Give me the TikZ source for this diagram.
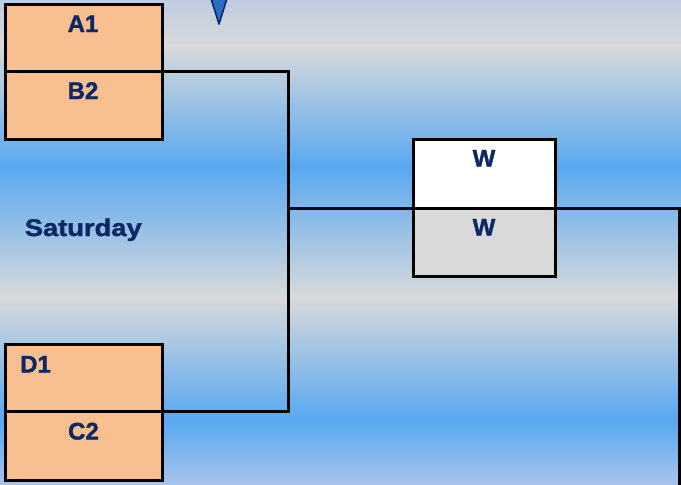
\documentclass[tikz,border=0pt]{standalone}
\usepackage{fontspec}
\setmainfont{Liberation Sans}[BoldFeatures={FakeBold=1.6}]
\definecolor{bggray}{RGB}{216,217,219}
\definecolor{bgblue}{RGB}{88,168,240}
\definecolor{bgtop}{RGB}{192,204,226}
\definecolor{bgbot}{RGB}{168,196,234}
\definecolor{seed}{RGB}{248,192,145}
\definecolor{wgray}{RGB}{217,217,217}
\definecolor{navy}{RGB}{14,40,102}
\definecolor{vblue}{RGB}{40,110,195}
\tikzset{
  box/.style={draw=black, line width=3pt, rectangle, outer sep=0pt, inner sep=0pt},
  lbl/.style={text=navy, font=\bfseries\fontsize{24}{24}\selectfont, inner sep=0pt, anchor=base},
  conn/.style={draw=black, line width=3pt},
}
\begin{document}
\begin{tikzpicture}[x=1pt,y=-1pt]
\useasboundingbox (0,0) rectangle (681,485);
% background bands
\shade[top color=bgtop, bottom color=bggray] (0,0) rectangle (681,45);
\shade[top color=bggray, bottom color=bgblue] (0,45) rectangle (681,167);
\shade[top color=bgblue, bottom color=bggray] (0,167) rectangle (681,297);
\shade[top color=bggray, bottom color=bgblue] (0,297) rectangle (681,420);
\shade[top color=bgblue, bottom color=bgbot] (0,420) rectangle (681,485);
% partial V glyph at top
\filldraw[fill=vblue, draw=navy, line width=1.6pt, line join=round] (210.5,-3) -- (227.5,-3) -- (219,24) -- cycle;
% boxes
\node[box, fill=seed, minimum width=157pt, minimum height=67pt] (a1) at (83.5,37.5) {};
\node[box, fill=seed, minimum width=157pt, minimum height=68pt] (b2) at (83.5,105) {};
\node[box, fill=seed, minimum width=157pt, minimum height=67pt] (d1) at (83.5,377.5) {};
\node[box, fill=seed, minimum width=157pt, minimum height=69pt] (c2) at (83.5,445.5) {};
\node[box, fill=white, minimum width=142pt, minimum height=69pt] (w1) at (484,173.5) {};
\node[box, fill=wgray, minimum width=142pt, minimum height=68pt] (w2) at (484,242) {};
% labels
\node[lbl] (ta1) at (83,32) {A1};
\node[lbl] (tb2) at (83,99) {B2};
\node[lbl, anchor=base west] (td1) at (20,372.5) {D1};
\node[lbl] (tc2) at (83.5,439.5) {C2};
\node[lbl] (tw1) at (484,166.5) {W};
\node[lbl] (tw2) at (484,235.5) {W};
\node[lbl, anchor=base west] (sat) at (24.5,236) {\scalebox{1.14}[1]{Saturday}};
% connectors
\coordinate (tr) at (288,71);
\coordinate (br) at (288,411);
\coordinate (mj) at (288,208);
\coordinate (re) at (679,208);
\coordinate (rb) at (679,486);
\draw[conn, line join=miter] (b2.north east) -- (tr) -- (br) -- (c2.north east);
\draw[conn] (mj) -- (w2.north west);
\draw[conn, line join=miter] (w2.north east) -- (re) -- (rb);
\end{tikzpicture}
\end{document}
